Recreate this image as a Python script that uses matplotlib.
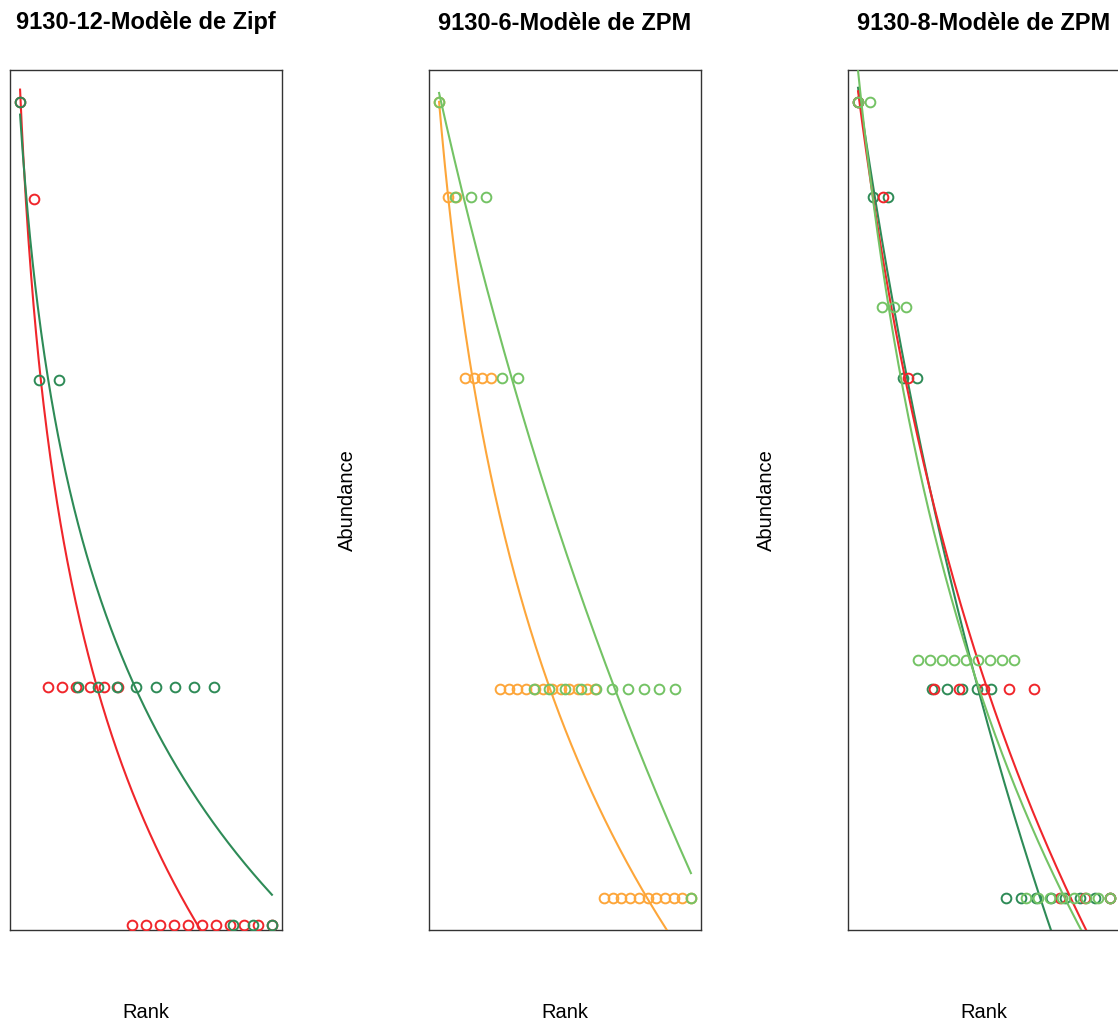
import numpy as np
import matplotlib
matplotlib.use("Agg")
import matplotlib.pyplot as plt

plt.rcParams['font.family'] = ['Liberation Sans', 'DejaVu Sans']

# ---------------- data ----------------
titles = ["9130-12-Modèle de Zipf", "9130-6-Modèle de ZPM", "9130-8-Modèle de ZPM"]
x_label = "Rank"
y_label = "Abundance"

RED = "#F0262B"
DKGREEN = "#2E8B57"
LTGREEN = "#74C365"
ORANGE = "#FDA63A"

# panel 1 : 9130-12 (Zipf)
p1_red = [11, 8.3, 2, 2, 2, 2, 2, 2, 1, 1, 1, 1, 1, 1, 1, 1, 1, 1, 1]
p1_green = [11, 4.9, 4.9, 2, 2, 2, 2, 2, 2, 2, 2, 1, 1, 1]
# panel 2 : 9130-6 (ZPM)
p2_orange = [14, 10.2, 10.2, 5.6, 5.6, 5.6, 5.6,
             2, 2, 2, 2, 2, 2, 2, 2, 2, 2, 2, 2,
             1, 1, 1, 1, 1, 1, 1, 1, 1, 1, 1]
p2_green = [14, 10.2, 10.2, 10.2, 5.6, 5.6,
            2, 2, 2, 2, 2, 2, 2, 2, 2, 2, 1]
# panel 3 : 9130-8 (ZPM)
p3_red = [14, 10.2, 5.6, 2, 2, 2, 2, 2, 1, 1, 1]
p3_dkgreen = [14, 10.2, 10.2, 5.6, 5.6, 2, 2, 2, 2, 2,
              1, 1, 1, 1, 1, 1, 1, 1]
p3_ltgreen = [14, 14, 7.1, 7.1, 7.1, 2.2, 2.2, 2.2, 2.2, 2.2, 2.2, 2.2, 2.2, 2.2,
              1, 1, 1, 1, 1, 1, 1, 1]

# fitted models: value at rank 1, beta (0 for Zipf), gamma
p1_red_fit = (11.4, 0.0, -0.93)
p1_green_fit = (10.6, 0.0, -0.861)
p2_orange_fit = (14.0, 3.0, -1.357)
p2_green_fit = (14.42, 15.0, -3.73)
p3_red_fit = (14.5, 2.2, -2.07)
p3_dkgreen_fit = (14.67, 8.7, -3.28)
p3_ltgreen_fit = (15.5, 3.5, -1.74)

panel_series = [
    [(p1_red, p1_red_fit, RED), (p1_green, p1_green_fit, DKGREEN)],
    [(p2_orange, p2_orange_fit, ORANGE), (p2_green, p2_green_fit, LTGREEN)],
    [(p3_dkgreen, p3_dkgreen_fit, DKGREEN), (p3_red, p3_red_fit, RED),
     (p3_ltgreen, p3_ltgreen_fit, LTGREEN)],
]
panel_ylim = [(0.986, 12.07), (0.900, 15.56), (0.900, 15.56)]
show_ylabel = [False, True, True]

# ---------------- figure ----------------
W, H = 1118, 1023
fig = plt.figure(figsize=(W / 100, H / 100), dpi=100)

box_left = [10, 429, 848]
box_w = 272
box_top, box_bot = 70, 930

for i in range(3):
    l = box_left[i] / W
    b = (H - box_bot) / H
    w = box_w / W
    h = (box_bot - box_top) / H
    ax = fig.add_axes([l, b, w, h])
    ax.set_yscale('log')
    ax.set_ylim(*panel_ylim[i])
    ax.set_xticks([])
    ax.set_yticks([])
    ax.yaxis.set_minor_locator(matplotlib.ticker.NullLocator())
    for s in ax.spines.values():
        s.set_color('#333333')
        s.set_linewidth(1.0)
    ax.set_xlim(0, 1)

    for vals, fit, col in panel_series[i]:
        sax = ax.twiny()
        sax.set_xticks([])
        for s in sax.spines.values():
            s.set_visible(False)
        n = len(vals)
        ranks = np.arange(1, n + 1)
        pad = 0.04 * (n - 1)
        sax.set_xlim(1 - pad, n + pad)
        v1, beta, gamma = fit
        rfine = np.linspace(1, n, 300)
        fitted = v1 * ((rfine + beta) / (1 + beta)) ** gamma
        sax.plot(ranks, vals, linestyle='none', marker='o', ms=7,
                 mfc='none', mec=col, mew=1.4)
        sax.plot(rfine, fitted, color=col, lw=1.5)
        sax.set_ylim(*panel_ylim[i])

    cx = (box_left[i] + box_w / 2) / W
    fig.text(cx, 1 - 23 / H, titles[i], ha='center', va='center',
             fontsize=17, fontweight='bold')
    fig.text(cx, 1 - 1013 / H, x_label, ha='center', va='center', fontsize=14.5)
    if show_ylabel[i]:
        fig.text((box_left[i] - 82) / W, 1 - 500 / H, y_label, ha='center',
                 va='center', rotation=90, fontsize=14.5)

fig.savefig("out.png", dpi=100)
